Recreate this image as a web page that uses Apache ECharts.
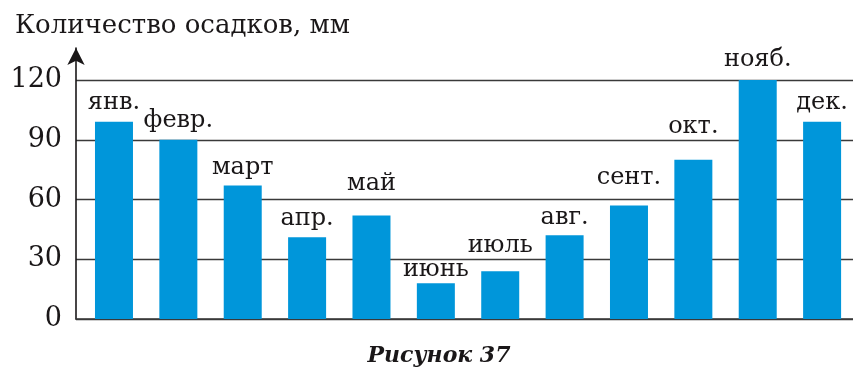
<!DOCTYPE html>
<html>
<head>
<meta charset="utf-8">
<script src="https://cdn.jsdelivr.net/npm/echarts@6/dist/echarts.min.js"></script>
<style>
  html, body { margin: 0; padding: 0; background: #fff; }
  #chart { width: 853px; height: 370px; }
</style>
</head>
<body>
<div id="chart"></div>
<script>
// Monthly precipitation, mm
const months = ['янв.', 'февр.', 'март', 'апр.', 'май', 'июнь', 'июль', 'авг.', 'сент.', 'окт.', 'нояб.', 'дек.'];
const precipitation = [99, 90, 67, 41, 52, 18, 24, 42, 57, 80, 120, 99];
const yTicks = [0, 30, 60, 90, 120];

const FONT = '"DejaVu Serif", serif';
const INK = '#1a1718';
const LINE = '#3a3a3a';

// distance (px) between each bar top and its month label
const labelGap = [7, 7, 6, 7, 20, 1, 13, 6, 16, 21, 8, 7];

const chart = echarts.init(document.getElementById('chart'));

chart.setOption({
  animation: false,
  title: [
    {
      text: 'Количество осадков, мм',
      left: 10, top: 8,
      textStyle: { fontFamily: FONT, fontSize: 26, fontWeight: 'normal', color: INK }
    },
    {
      text: 'Рисунок 37',
      left: 434, top: 340, textAlign: 'center',
      textStyle: { fontFamily: FONT, fontSize: 22, fontStyle: 'italic', fontWeight: 'bold', color: INK }
    }
  ],
  grid: [
    { left: 76, right: 0, top: 80, bottom: 51 },
    { left: 76, width: 10, top: 48, bottom: 51 }
  ],
  xAxis: [
    {
      gridIndex: 0, type: 'value', min: -0.59, max: 11.48,
      axisLine: { show: true, onZero: false, lineStyle: { color: LINE, width: 1.6 } },
      axisTick: { show: false }, axisLabel: { show: false }, splitLine: { show: false }
    },
    {
      gridIndex: 1, type: 'value', show: false
    }
  ],
  yAxis: [
    {
      gridIndex: 0, type: 'value', min: yTicks[0], max: yTicks[yTicks.length - 1], interval: 30,
      axisLine: { show: false }, axisTick: { show: false },
      axisLabel: { margin: 14, fontFamily: FONT, fontSize: 27, color: INK },
      splitLine: { show: true, lineStyle: { color: LINE, width: 1.4 } }
    },
    {
      gridIndex: 1, type: 'value', min: 0, max: 1,
      axisLine: {
        show: true, symbol: ['none', 'arrow'], symbolSize: [13, 17],
        lineStyle: { color: INK, width: 1.6 }
      },
      axisTick: { show: false }, axisLabel: { show: false }, splitLine: { show: false }
    }
  ],
  series: [
    {
      type: 'bar',
      xAxisIndex: 0, yAxisIndex: 0,
      barWidth: 38,
      itemStyle: { color: '#0096da' },
      data: precipitation.map((v, i) => ({
        value: [i, v],
        label: { distance: labelGap[i] }
      })),
      label: {
        show: true, position: 'top',
        fontFamily: FONT, fontSize: 24, color: INK,
        formatter: p => months[p.dataIndex]
      }
    }
  ]
});
</script>
</body>
</html>
